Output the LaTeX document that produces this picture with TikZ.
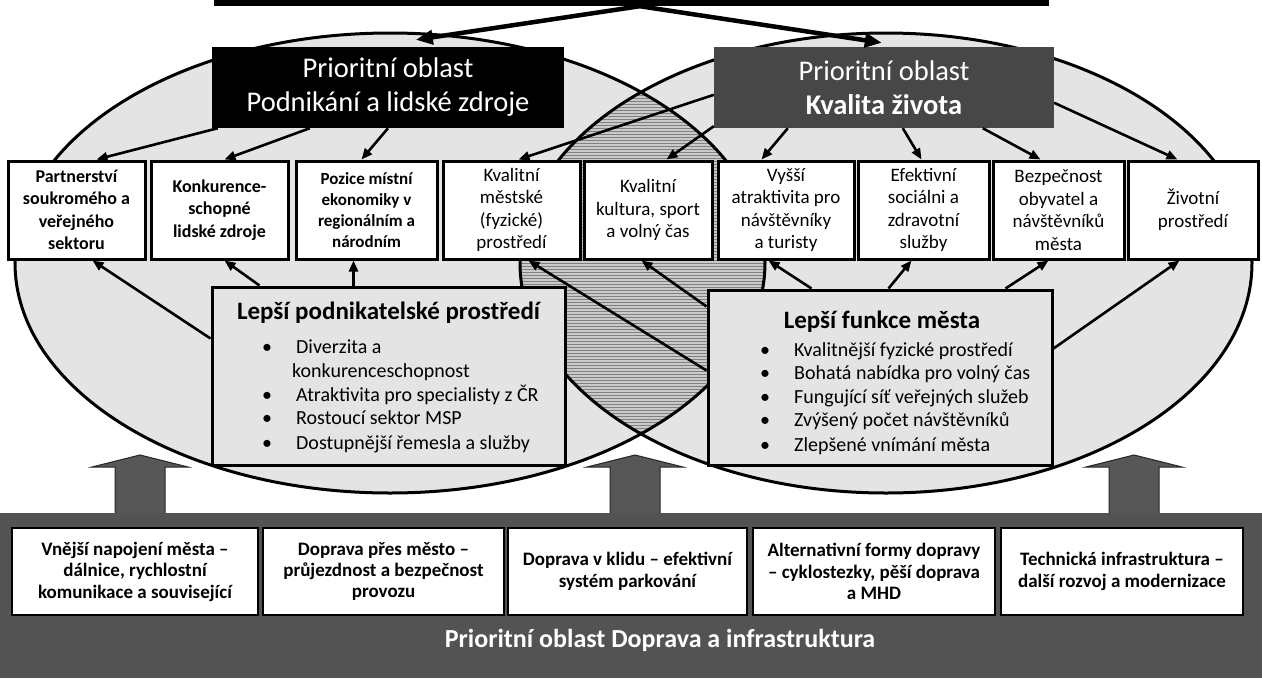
\documentclass[tikz,border=0pt]{standalone}
\usepackage{fontspec}
\setmainfont{Carlito}
\usetikzlibrary{arrows.meta,calc,patterns}
\definecolor{ellgray}{HTML}{E4E4E4}
\definecolor{lensgray}{HTML}{CACACA}
\definecolor{darkbox}{HTML}{474747}
\definecolor{bandgray}{HTML}{535353}
\definecolor{arrowgray}{HTML}{575757}
\begin{document}
\begin{tikzpicture}[x=1pt,y=-1pt,
  box/.style={draw=black,line width=3pt,inner sep=0pt,align=center},
  rowbox/.style={box,fill=white,minimum height=98pt},
  rowb/.style={rowbox,font=\bfseries\fontsize{18}{22.5}\selectfont},
  rowr/.style={rowbox,font=\fontsize{19}{22.5}\selectfont},
  titlebox/.style={inner sep=0pt,align=center,text=white,minimum height=81pt,font=\fontsize{28.5}{34}\selectfont},
  lowbox/.style={box,fill=ellgray},
  bul/.style={font=\fontsize{20}{24}\selectfont,inner sep=0pt,anchor=base west},
  lowtitle/.style={font=\bfseries\fontsize{25}{30}\selectfont,inner sep=0pt},
  botbox/.style={draw=black,line width=2pt,fill=white,inner sep=0pt,align=center,minimum height=87pt,font=\bfseries\fontsize{19}{21.5}\selectfont},
  conn/.style={line width=2.6pt,-{Triangle[length=11pt,width=9pt]}},
  bigconn/.style={line width=4.5pt,-{Triangle[length=17pt,width=14pt]}},
  blockarrow/.style={fill=arrowgray,draw=black!85,line width=1pt},
  ell/.style={line width=3pt}
]
\useasboundingbox (0,0) rectangle (1262,678);
\fill[white] (0,0) rectangle (1262,678);

% ellipses
\fill[ellgray] (390,263) ellipse [x radius=375pt, y radius=230pt];
\fill[ellgray] (886,263) ellipse [x radius=366pt, y radius=230pt];
\begin{scope}
  \clip (390,263) ellipse [x radius=375pt, y radius=230pt];
  \fill[lensgray] (886,263) ellipse [x radius=366pt, y radius=230pt];
  \fill[pattern=horizontal lines, pattern color=black!50] (886,263) ellipse [x radius=366pt, y radius=230pt];
\end{scope}
\draw[ell] (390,263) ellipse [x radius=375pt, y radius=230pt];
\draw[ell] (886,263) ellipse [x radius=366pt, y radius=230pt];

% top bar and title boxes
\node[fill=black,minimum width=835pt,minimum height=6pt,inner sep=0pt] (bar) at (631.5,3) {};
\node[titlebox,fill=black,minimum width=352pt] (tl) at (388,87.5) {Prioritní oblast\\Podnikání a lidské zdroje};
\node[titlebox,fill=darkbox,minimum width=340pt] (tr) at (884,87.5) {Prioritní oblast\\\textbf{Kvalita života}};
\draw[bigconn] ($(bar.south west)+(426,0)$) -- ($(tl.north west)+(204,-7)$);
\draw[bigconn] ($(bar.south west)+(426,0)$) -- ($(tr.north west)+(168,-4)$);

% row of boxes
\node[rowb,minimum width=137pt] (r1) at (76.5,210) {Partnerství\\soukromého a\\veřejného\\sektoru};
\node[rowb,minimum width=137pt] (r2) at (219.5,210) {Konkurence-\\schopné\\lidské zdroje};
\node[rowb,minimum width=141pt,font=\bfseries\fontsize{17}{21}\selectfont] (r3) at (366.5,210) {Pozice místní\\ekonomiky v\\regionálním a\\národním};
\node[rowr,minimum width=137pt] (r4) at (511.5,210) {Kvalitní\\městské\\(fyzické)\\prostředí};
\node[rowr,minimum width=128pt] (r5) at (648,210) {Kvalitní\\kultura, sport\\a volný čas};
\node[rowr,minimum width=136pt] (r6) at (786,210) {Vyšší\\atraktivita pro\\návštěvníky\\a turisty};
\node[rowr,minimum width=131pt] (r7) at (923.5,210) {Efektivní\\sociálni a\\zdravotní\\služby};
\node[rowr,minimum width=131pt] (r8) at (1058.5,210) {Bezpečnost\\obyvatel a\\návštěvníků\\města};
\node[rowr,minimum width=130pt] (r9) at (1193,210) {Životní\\prostředí};

% arrows from title boxes
\draw[conn] ($(tl.south west)+(6,0)$) -- ($(r1.north west)+(90,0)$);
\draw[conn] ($(tl.south west)+(98,0)$) -- ($(r2.north west)+(75,0)$);
\draw[conn] (tl.south) -- ($(r3.north west)+(67,0)$);
\draw[conn] ($(tr.north west)+(0,48)$) -- ($(r4.north west)+(77,0)$);
\draw[conn] ($(tr.south west)+(0,-2)$) -- ($(r5.north west)+(84,0)$);
\draw[conn] ($(tr.south west)+(74,0)$) -- ($(r6.north west)+(45,0)$);
\draw[conn] ($(tr.south west)+(189,0)$) -- ($(r7.north west)+(65,0)$);
\draw[conn] ($(tr.south west)+(269,0)$) -- ($(r8.north west)+(49,0)$);
\draw[conn] ($(tr.north east)+(0,56)$) -- ($(r9.north west)+(51,0)$);

% lower boxes
\node[lowbox,minimum width=353pt,minimum height=178pt] (lb) at (388.5,376) {};
\node[lowbox,minimum width=344pt,minimum height=175pt] (rb) at (880,377.5) {};
\node[lowtitle] (lbT) at (388.5,313) {Lepší podnikatelské prostředí};
\node[bul] (lb1) at (296,353) {\llap{•\hspace{24pt}}Diverzita a};
\node[bul] (lb2) at (292,377) {konkurenceschopnost};
\node[bul] (lb3) at (296,401) {\llap{•\hspace{24pt}}Atraktivita pro specialisty z ČR};
\node[bul] (lb4) at (296,424) {\llap{•\hspace{24pt}}Rostoucí sektor MSP};
\node[bul] (lb5) at (296,449) {\llap{•\hspace{24pt}}Dostupnější řemesla a služby};
\node[lowtitle] (rbT) at (882,322) {Lepší funkce města};
\node[bul] (rb1) at (794,356) {\llap{•\hspace{24pt}}Kvalitnější fyzické prostředí};
\node[bul] (rb2) at (794,379) {\llap{•\hspace{24pt}}Bohatá nabídka pro volný čas};
\node[bul] (rb3) at (794,403) {\llap{•\hspace{24pt}}Fungující síť veřejných služeb};
\node[bul] (rb4) at (794,426) {\llap{•\hspace{24pt}}Zvýšený počet návštěvníků};
\node[bul] (rb5) at (794,451) {\llap{•\hspace{24pt}}Zlepšené vnímání města};

% arrows from lower boxes
\draw[conn] ($(lb.north west)+(0,53)$) -- ($(r1.south west)+(86,0)$);
\draw[conn] ($(lb.north west)+(49,0)$) -- ($(r2.south west)+(75,0)$);
\draw[conn] ($(lb.north west)+(143,0)$) -- ($(r3.south west)+(59,0)$);
\draw[conn] ($(rb.north west)+(0,82)$) -- ($(r4.south west)+(87,0)$);
\draw[conn] ($(rb.north west)+(0,18)$) -- ($(r5.south west)+(59,0)$);
\draw[conn] ($(rb.north west)+(105,0)$) -- ($(r6.south west)+(52,0)$);
\draw[conn] ($(rb.north west)+(182,0)$) -- ($(r7.south west)+(55,0)$);
\draw[conn] ($(rb.north west)+(299,0)$) -- ($(r8.south west)+(57,0)$);
\draw[conn] ($(rb.north east)+(0,60)$) -- ($(r9.south west)+(53,0)$);

% block arrows
\foreach \cx in {140,635,1134}{
  \draw[blockarrow] (\cx-25,514) -- (\cx-25,467) -- (\cx-48,467) -- (\cx,455) -- (\cx+48,467) -- (\cx+25,467) -- (\cx+25,514) -- cycle;
}

% bottom band
\node[fill=bandgray,minimum width=1262pt,minimum height=165pt,inner sep=0pt] (band) at (631,595.5) {};
\node[botbox,minimum width=246pt] (b1) at (135,571.5) {Vnější napojení města –\\dálnice, rychlostní\\komunikace a související};
\node[botbox,minimum width=241pt] (b2) at (383.5,571.5) {Doprava přes město –\\průjezdnost a bezpečnost\\provozu};
\node[botbox,minimum width=239pt] (b3) at (627.5,571.5) {Doprava v klidu – efektivní\\systém parkování};
\node[botbox,minimum width=242pt] (b4) at (874,571.5) {Alternativní formy dopravy\\– cyklostezky, pěší doprava\\a MHD};
\node[botbox,minimum width=242pt] (b5) at (1122,571.5) {Technická infrastruktura –\\další rozvoj a modernizace};
\node[text=white,inner sep=0pt,font=\bfseries\fontsize{26}{31}\selectfont] (bandT) at (660,640) {Prioritní oblast Doprava a infrastruktura};
\end{tikzpicture}
\end{document}
